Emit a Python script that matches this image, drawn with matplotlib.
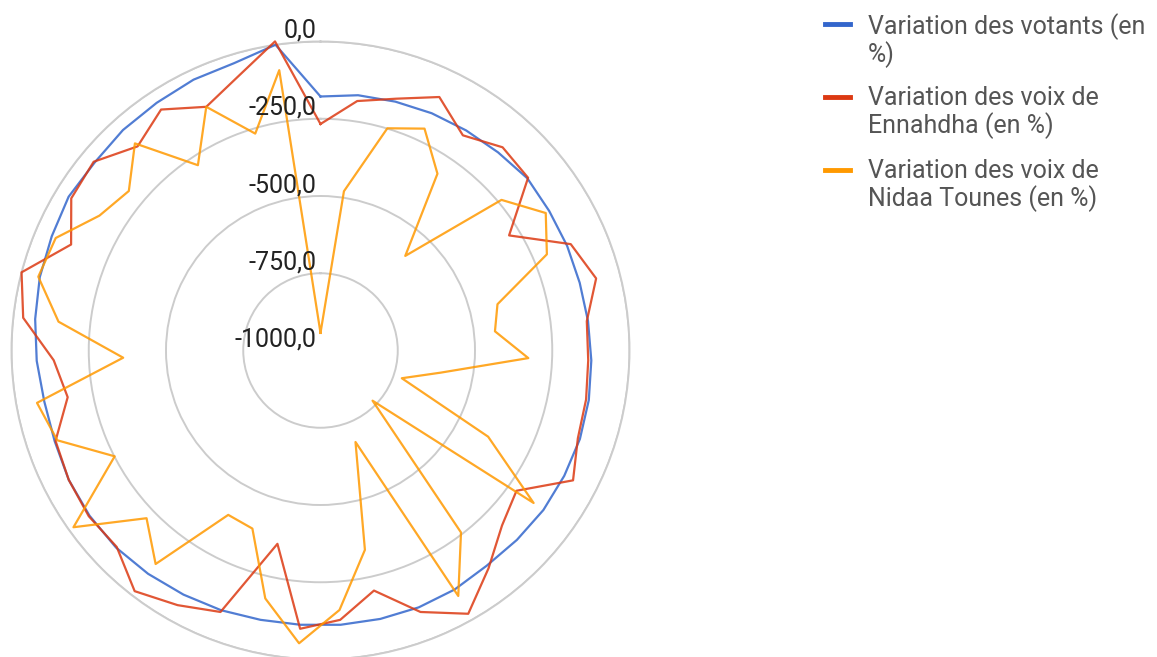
"""
Radar chart: variation des votants / voix Ennahdha / voix Nidaa Tounes
"""

import numpy as np
import matplotlib.pyplot as plt
from matplotlib.lines import Line2D

plt.rcParams['font.family'] = ['Roboto', 'DejaVu Sans']

# one value per district, clockwise from the top
votants = [-178, -165, -159, -152, -146, -139, -129, -133, -133, -133, -129,
           -123, -117, -113, -113, -113, -117, -120, -113, -110, -110, -110,
           -110, -107, -100, -94, -87, -81, -81, -84, -91, -91, -81, -71,
           -61, -55, -45, -49, -42, -39, -32, -29, 0]
ennahdha = [-267, -184, -149, -94, -165, -117, -126, -285, -120, -78, -133,
            -133, -126, -120, -81, -220, -184, -110, -23, -94, -204, -126,
            -97, -359, -94, -55, -16, -84, -78, -84, -94, -168, -136, -32,
            0, -123, -55, -45, -113, -65, -129, -74, 11]
nidaa = [-943, -479, -249, -207, -314, -589, -238, -146, -204, -408, -432,
         -327, -605, -722, -390, -152, -766, -256, -89, -683, -339, -158,
         -50, -178, -383, -390, -127, -218, -17, -251, -100, -67, -361, -147,
         -56, -69, -162, -193, -100, -281, -129, -267, -83]

series_names = ["Variation des votants (en\n%)",
                "Variation des voix de\nEnnahdha (en %)",
                "Variation des voix de\nNidaa Tounes (en %)"]
colors = ["#3366cc", "#dc3912", "#ff9900"]
ticks = [-1000, -750, -500, -250, 0]
tick_labels = ["-1000,0", "-750,0", "-500,0", "-250,0", "0,0"]

W, H = 1157, 657
fig = plt.figure(figsize=(W / 100, H / 100), dpi=100)

cx, cy, R = 320.5, 350.5, 309
ax = fig.add_axes([(cx - R) / W, (H - cy - R) / H, 2 * R / W, 2 * R / H],
                  projection='polar')
ax.set_theta_zero_location('N')
ax.set_theta_direction(-1)

n = len(votants)
theta = np.arange(n + 1) * 2 * np.pi / n

for vals, c in zip([votants, ennahdha, nidaa], colors):
    v = list(vals) + [vals[0]]
    ax.plot(theta, v, color=c, lw=1.6, alpha=0.85, clip_on=False, zorder=3)

ax.set_ylim(-1000, 0)
ax.set_yticks(ticks)
ax.set_yticklabels([])
ax.set_xticks([])
ax.grid(True, axis='y', color='#cccccc', lw=1.4)
ax.spines['polar'].set_color('#cccccc')
ax.spines['polar'].set_linewidth(1.4)

for t, lab in zip(ticks, tick_labels):
    ax.annotate(lab, xy=(0, t), xytext=(-4, 11), textcoords='offset pixels',
                ha='right', va='center', fontsize=18, color='#222222',
                annotation_clip=False)

# legend drawn by hand to match the layout
leg_y = [24, 97, 170]
for name, c, y in zip(series_names, colors, leg_y):
    fig.add_artist(Line2D([825 / W, 850 / W], [1 - y / H, 1 - y / H],
                          color=c, lw=3.5, transform=fig.transFigure))
    fig.text(868 / W, 1 - (y - 11) / H, name, ha='left', va='top',
             fontsize=18, color='#555555', linespacing=1.08)

fig.savefig("out.png", dpi=100)
